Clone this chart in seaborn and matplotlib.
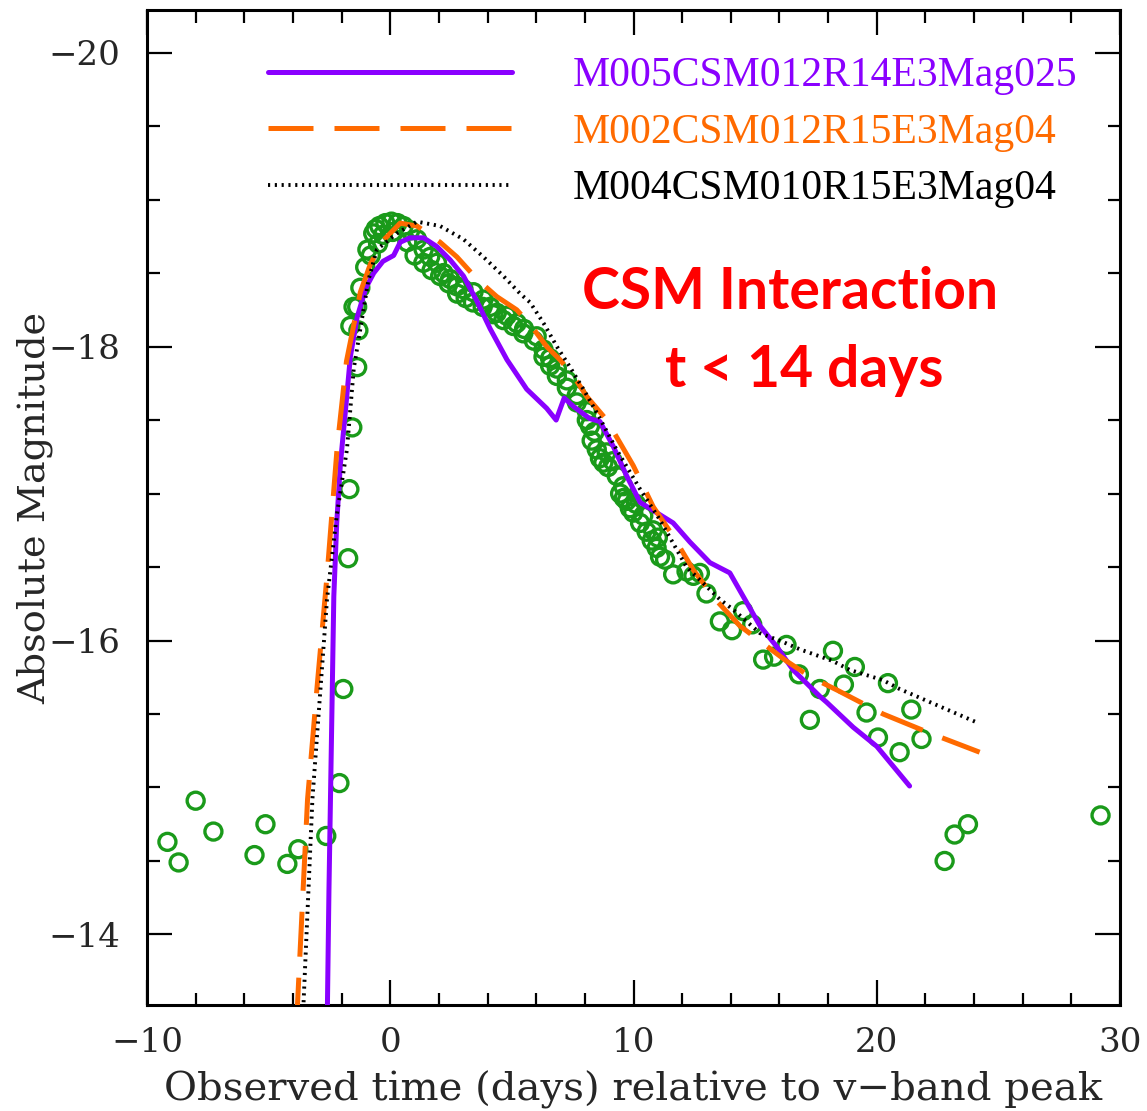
import numpy as np
import pandas as pd
import matplotlib
matplotlib.use("Agg")
import matplotlib.pyplot as plt
from matplotlib.ticker import MultipleLocator, FixedLocator
import seaborn as sns

# ---------------- data ----------------
obs_t = [-9.16, -8.7, -8.0, -7.27, -5.58, -5.13, -4.23, -3.78, -2.63, -2.09,
         -1.93, -1.73, -1.68, -1.56, -1.36, -1.31, -1.64, -1.51, -1.36, -1.23,
         -1.03, -0.94, -0.80, -0.70, -0.60, -0.50, -0.45, -0.30, -0.20, 0.05,
         0.10, 0.30, 0.55, 0.82,
         1.10, 1.37, 1.64, 1.92, 2.19, 2.46, 2.74, 3.01, 3.42, 3.83,
         4.11, 4.38, 4.79, 5.20, 5.47,
         0.70, 1.00, 1.36, 1.70, 2.05, 2.40, 2.75, 3.10, 3.40, 3.80,
         4.24, 4.65, 5.06, 5.50, 5.90, 6.30, 6.57, 6.85, 7.26, 7.67,
         8.08, 8.21,
         6.02, 6.30, 6.57, 6.85, 7.26, 7.67, 8.08,
         8.28, 8.49, 8.62, 8.76, 8.95, 9.31, 9.58, 9.72, 9.85, 9.99,
         10.27, 10.54, 10.75, 10.95, 11.09, 11.30, 11.63, 12.18, 12.46, 12.73,
         8.40, 8.90, 9.15, 9.45, 9.60, 10.10, 10.40, 10.80, 11.00,
         13.00, 13.55, 14.05, 14.51, 14.88, 15.33, 15.78, 16.29, 16.80, 17.25,
         17.66, 18.20, 18.65, 19.10, 19.58, 20.05, 20.46, 20.94, 21.42, 21.84,
         22.79, 23.20, 23.75, 29.20]
obs_mag = [-14.63, -14.49, -14.91, -14.70, -14.54, -14.75, -14.48, -14.58, -14.67, -15.03,
           -15.67, -16.56, -17.03, -17.45, -17.86, -18.11, -18.14, -18.27, -18.27, -18.40,
           -18.54, -18.66, -18.62, -18.77, -18.80, -18.70, -18.82, -18.76, -18.84, -18.85,
           -18.78, -18.84, -18.82, -18.79,
           -18.73, -18.66, -18.61, -18.57, -18.50, -18.46, -18.41, -18.39, -18.37, -18.32,
           -18.27, -18.23, -18.21, -18.16, -18.09,
           -18.71, -18.62, -18.57, -18.52, -18.48, -18.43, -18.36, -18.33, -18.30, -18.27,
           -18.22, -18.18, -18.14, -18.12, -18.04, -17.93, -17.87, -17.80, -17.72, -17.62,
           -17.50, -17.46,
           -18.07, -17.98, -17.92, -17.85, -17.77, -17.67, -17.56,
           -17.36, -17.30, -17.24, -17.21, -17.18, -17.12, -17.05, -16.95, -16.90, -16.87,
           -16.80, -16.74, -16.68, -16.63, -16.57, -16.55, -16.45, -16.47, -16.44, -16.46,
           -17.42, -17.28, -17.22, -17.00, -16.97, -16.93, -16.85, -16.75, -16.70,
           -16.32, -16.13, -16.07, -16.20, -16.11, -15.87, -15.89, -15.97, -15.77, -15.46,
           -15.67, -15.93, -15.70, -15.82, -15.51, -15.34, -15.71, -15.24, -15.53, -15.33,
           -14.50, -14.68, -14.75, -14.81]

m005_t = [-2.60, -2.52, -2.42, -2.32, -2.20, -2.05, -1.85, -1.64, -1.36, -1.00,
          -0.68, -0.30, 0.14, 0.41, 0.82, 1.37, 1.92, 2.46, 3.01, 3.56,
          4.11, 4.80, 5.61, 6.43, 6.82, 7.15, 7.55, 8.20, 8.62, 9.17,
          9.72, 10.27, 10.95, 11.63, 12.32, 13.14, 13.96, 14.51, 15.20, 15.88,
          16.56, 17.66, 17.94, 19.03, 20.00, 21.35]
m005_mag = [-13.30, -14.30, -15.30, -16.30, -16.80, -17.20, -17.55, -17.93, -18.20, -18.40,
            -18.50, -18.58, -18.62, -18.71, -18.74, -18.74, -18.68, -18.59, -18.48, -18.31,
            -18.12, -17.91, -17.71, -17.58, -17.50, -17.65, -17.59, -17.51, -17.49, -17.32,
            -17.12, -16.94, -16.87, -16.80, -16.67, -16.53, -16.46, -16.30, -16.10, -15.96,
            -15.80, -15.62, -15.58, -15.41, -15.28, -15.01]

m002_t = [-3.85, -3.40, -3.00, -2.60, -2.18, -1.80, -1.23, -0.82, -0.30, 0.41,
          1.10, 2.05, 2.74, 3.56, 4.38, 5.20, 5.75, 6.43, 6.98, 7.53,
          8.08, 8.90, 9.99, 10.81, 11.63, 12.46, 13.42, 14.37, 15.33, 16.29,
          17.30, 18.40, 20.26, 22.18, 24.23]
m002_mag = [-13.40, -14.92, -15.70, -16.44, -17.32, -17.90, -18.37, -18.56, -18.72, -18.84,
            -18.82, -18.71, -18.61, -18.46, -18.34, -18.25, -18.15, -18.00, -17.91, -17.80,
            -17.66, -17.50, -17.19, -16.91, -16.71, -16.48, -16.27, -16.10, -15.98, -15.86,
            -15.75, -15.66, -15.50, -15.37, -15.24]

m004_t = [-3.60, -3.20, -2.90, -2.60, -2.20, -1.78, -1.50, -1.25, -0.90, -0.55,
          0.27, 1.10, 2.05, 3.01, 3.83, 4.65, 5.34, 5.75, 6.30, 6.85,
          7.39, 7.94, 8.49, 9.30, 10.27, 11.09, 12.18, 13.55, 14.10, 15.20,
          16.15, 16.84, 18.20, 18.89, 20.26, 20.94, 24.15]
m004_mag = [-13.40, -14.92, -15.60, -16.28, -16.85, -17.30, -17.85, -18.10, -18.45, -18.66,
            -18.77, -18.85, -18.82, -18.73, -18.61, -18.48, -18.36, -18.30, -18.16, -18.00,
            -17.86, -17.71, -17.55, -17.30, -17.03, -16.82, -16.50, -16.28, -16.21, -16.05,
            -15.99, -15.94, -15.86, -15.80, -15.73, -15.67, -15.44]

labels = ["M005CSM012R14E3Mag025", "M002CSM012R15E3Mag04", "M004CSM010R15E3Mag04"]
x_ticks = [-10, 0, 10, 20, 30]
y_ticks = [-20, -18, -16, -14]

PURPLE = "#8a00ff"
ORANGE = "#ff6a00"
BLACK = "#000000"
GREEN = "#1a9a1a"

# ---------------- plot ----------------
sns.set_theme(style="ticks")
plt.rcParams['font.family'] = ['DejaVu Serif', 'DejaVu Sans']
plt.rcParams['axes.unicode_minus'] = True

fig = plt.figure(figsize=(11.47, 11.11), dpi=100)
ax = fig.add_axes([147 / 1147, 1 - 1005 / 1111, (1120 - 147) / 1147, (1005 - 10) / 1111])

df_obs = pd.DataFrame({"t": obs_t, "mag": obs_mag})
sns.scatterplot(data=df_obs, x="t", y="mag", ax=ax, s=150, marker="o", legend=False, zorder=2)
coll = ax.collections[-1]
coll.set_facecolor("none")
coll.set_edgecolor(GREEN)
coll.set_linewidth(2.4)

sns.lineplot(x=m005_t, y=m005_mag, ax=ax, color=PURPLE, lw=3.6, sort=False,
             estimator=None, zorder=3)
l1 = ax.get_lines()[-1]
sns.lineplot(x=m002_t, y=m002_mag, ax=ax, color=ORANGE, lw=3.6, sort=False,
             estimator=None, zorder=3)
l2 = ax.get_lines()[-1]
l2.set_dashes((9, 4.2))
sns.lineplot(x=m004_t, y=m004_mag, ax=ax, color=BLACK, lw=2.8, sort=False,
             estimator=None, zorder=4)
l3 = ax.get_lines()[-1]
l3.set_dashes((0.55, 1.2))

ax.set_xlim(-10, 30)
ax.set_ylim(-13.52, -20.29)
ax.xaxis.set_major_locator(FixedLocator(x_ticks))
ax.yaxis.set_major_locator(FixedLocator(y_ticks))
ax.xaxis.set_minor_locator(MultipleLocator(2))
ax.yaxis.set_minor_locator(MultipleLocator(0.5))
ax.tick_params(which="both", direction="in", top=True, right=True, color="black")
ax.tick_params(which="major", length=18, width=1.6, labelsize=24.5)
ax.tick_params(which="minor", length=9, width=1.6)
ax.tick_params(axis="x", pad=16)
ax.tick_params(axis="y", pad=19)
for sp in ax.spines.values():
    sp.set_linewidth(2.2)
    sp.set_color("black")

ax.set_xlabel("Observed time (days) relative to v\u2212band peak", fontsize=29, labelpad=8)
ax.set_ylabel("Absolute Magnitude", fontsize=27.5, labelpad=-3)

leg = ax.legend(handles=[l1, l2, l3], labels=labels, loc="upper left",
                bbox_to_anchor=(0.1244, 0.953), frameon=False,
                prop={"family": "Liberation Serif", "size": 30},
                handlelength=5.85, handletextpad=1.46, labelspacing=0.43,
                borderpad=0, borderaxespad=0,
                labelcolor=[PURPLE, ORANGE, BLACK])

ax.text(16.43, -18.37, "CSM Interaction", color="#ff0000", fontsize=41,
        fontweight="bold", family="Lato", ha="center", va="center")
ax.text(17.04, -17.84, "t < 14 days", color="#ff0000", fontsize=41,
        fontweight="bold", family="Lato", ha="center", va="center")

fig.savefig("out.png", dpi=100, facecolor="white")
